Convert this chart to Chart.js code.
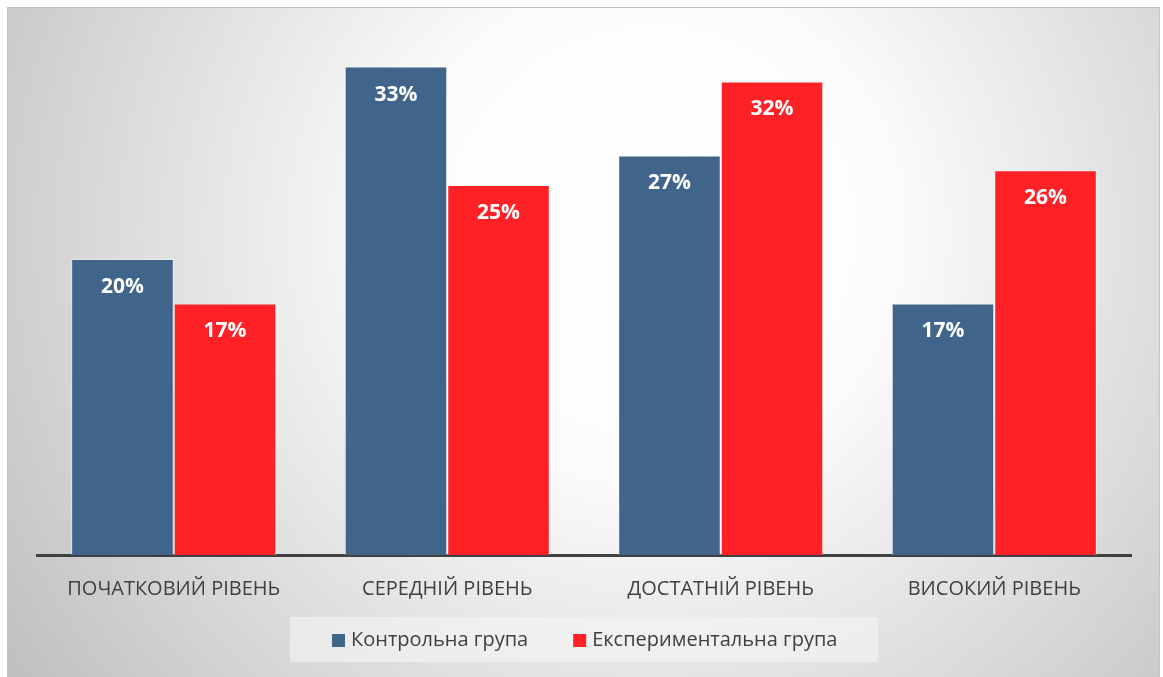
<!DOCTYPE html>
<html>
<head>
  <title>Рівні сформованості</title>
  <script src="https://cdn.jsdelivr.net/npm/chart.js@4.4.0/dist/chart.umd.min.js"></script>
  <style>
    html, body { margin: 0; padding: 0; background: #fff; }
    #wrap { width: 1163px; height: 677px; }
  </style>
</head>
<body>
  <div id="wrap"><canvas id="barChart" width="1163" height="677"></canvas></div>

<script>
  // chart data
  var levels = ['ПОЧАТКОВИЙ РІВЕНЬ', 'СЕРЕДНІЙ РІВЕНЬ', 'ДОСТАТНІЙ РІВЕНЬ', 'ВИСОКИЙ РІВЕНЬ'];
  var groupNames = ['Контрольна група', 'Експериментальна група'];
  var controlValues = [20, 33, 27, 17];
  var experimentValues = [17, 25, 32, 26];

  var blue = '#41658a';
  var red = '#ff2125';
  var textColor = '#404040';
  var labelFont = '"Open Sans", "Liberation Sans", sans-serif';

  // grey radial backdrop with thin frame
  var backdrop = {
    id: 'backdrop',
    beforeDraw: function(chart) {
      var ctx = chart.ctx;
      ctx.save();
      ctx.fillStyle = '#ffffff';
      ctx.fillRect(0, 0, chart.width, chart.height);
      var g = ctx.createRadialGradient(650, 230, 0, 650, 230, 800);
      g.addColorStop(0, '#ffffff');
      g.addColorStop(0.3, '#fcfcfc');
      g.addColorStop(1, '#bdbdbd');
      ctx.fillStyle = g;
      ctx.fillRect(7, 7, 1153, 670);
      ctx.strokeStyle = '#c4c4c4';
      ctx.lineWidth = 1;
      ctx.strokeRect(7.5, 7.5, 1152, 675);
      ctx.restore();
    }
  };

  // percent labels inside the top of each bar
  var barLabels = {
    id: 'barLabels',
    afterDatasetsDraw: function(chart) {
      var ctx = chart.ctx;
      ctx.save();
      ctx.fillStyle = '#ffffff';
      ctx.font = 'bold 21px ' + labelFont;
      ctx.textAlign = 'center';
      ctx.textBaseline = 'middle';
      chart.data.datasets.forEach(function(ds, i) {
        chart.getDatasetMeta(i).data.forEach(function(bar, j) {
          ctx.fillText(ds.data[j] + '%', bar.x, bar.y + 28);
        });
      });
      ctx.restore();
    }
  };

  // legend drawn on a light panel below the axis
  var panelLegend = {
    id: 'panelLegend',
    afterDraw: function(chart) {
      var ctx = chart.ctx;
      ctx.save();
      ctx.fillStyle = 'rgba(245,245,245,0.6)';
      ctx.fillRect(290, 617, 588, 45);
      ctx.font = '20px ' + labelFont;
      ctx.textBaseline = 'middle';
      var x = 332;
      chart.data.datasets.forEach(function(ds) {
        ctx.fillStyle = ds.backgroundColor;
        ctx.fillRect(x, 634, 13, 13);
        ctx.fillStyle = textColor;
        ctx.textAlign = 'left';
        ctx.fillText(ds.label, x + 19, 640);
        x += 19 + ctx.measureText(ds.label).width + 45;
      });
      ctx.restore();
    }
  };

  var ctx = document.getElementById('barChart').getContext('2d');
  new Chart(ctx, {
    type: 'bar',
    data: {
      labels: levels,
      datasets: [{
        label: groupNames[0],
        data: controlValues,
        backgroundColor: blue,
        borderColor: 'rgba(255,255,255,0.45)',
        borderWidth: 1
      }, {
        label: groupNames[1],
        data: experimentValues,
        backgroundColor: red,
        borderColor: 'rgba(255,255,255,0.45)',
        borderWidth: 1
      }]
    },
    options: {
      responsive: false,
      animation: false,
      layout: { padding: { left: 37, right: 32, top: 37, bottom: 0 } },
      categoryPercentage: 0.75,
      barPercentage: 1,
      plugins: {
        legend: { display: false },
        tooltip: { enabled: false }
      },
      scales: {
        x: {
          grid: { display: false, drawTicks: false },
          border: { display: true, color: textColor, width: 3 },
          ticks: {
            color: textColor,
            font: { family: labelFont, size: 20 },
            padding: 22
          },
          afterFit: function(scale) { scale.height = 122; }
        },
        y: {
          display: false,
          min: 0,
          max: 35
        }
      }
    },
    plugins: [backdrop, barLabels, panelLegend]
  });
</script>
</body>
</html>
